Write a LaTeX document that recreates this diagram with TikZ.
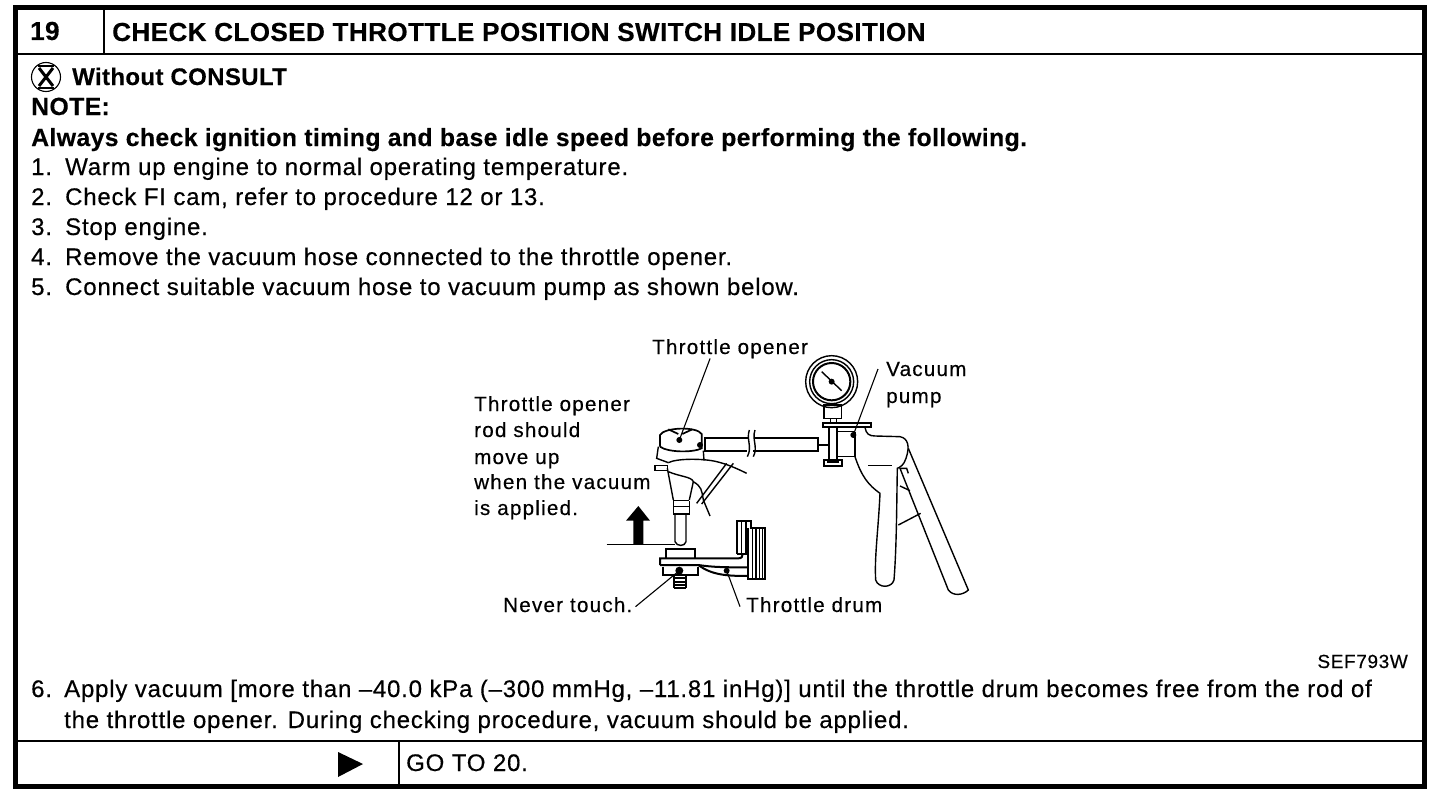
\documentclass[tikz,border=0pt]{standalone}
\usepackage{fontspec}
\setmainfont[LetterSpace=3.3,FakeBold=0.4,BoldFeatures={LetterSpace=1.5,FakeBold=0.3}]{Liberation Sans}
\newfontfamily\labelfont[LetterSpace=6,FakeBold=0.4]{Liberation Sans}
\begin{document}
\begin{tikzpicture}[x=1pt, y=-1pt,
    frame line/.style={line width=1.8pt},
    step text/.style={anchor=base west, inner sep=0pt, font=\fontsize{24}{26}\selectfont},
    head text/.style={anchor=base west, inner sep=0pt, font=\fontsize{26.1}{28}\selectfont\bfseries},
    note text/.style={anchor=base west, inner sep=0pt, font=\fontsize{24.8}{27}\selectfont\bfseries},
    pic label/.style={anchor=base west, inner sep=0pt, font=\fontsize{20.6}{23}\selectfont\labelfont},
    sketch/.style={line width=1.4pt},
    leader/.style={line width=1.1pt}]

    \useasboundingbox (0,0) rectangle (1456,800);

    % Frame
    \draw[line width=5pt] (15,8) rectangle (1424,786);
    \draw[frame line] (15,54) -- (1424,54);
    \draw[frame line] (104,8) -- (104,54);
    \draw[frame line] (15,741) -- (1424,741);
    \draw[frame line] (399,741) -- (399,786);

    % Header
    \node[head text] (num) at (30,40) {19};
    \node[head text] (title) at (112,41) {CHECK CLOSED THROTTLE POSITION SWITCH IDLE POSITION};

    % Icon
    \draw[line width=1.1pt] (46,77) circle (14.5);
    \draw[line width=1.1pt] (38,66) -- (54,66);
    \draw[line width=1.1pt] (38,88) -- (54,88);
    \draw[line width=3pt] (39,68) -- (53,86);
    \draw[line width=3pt] (53,68) -- (39,86);

    % Steps
    \node[note text, font=\fontsize{24}{27}\selectfont\bfseries] (without) at (72,85) {Without CONSULT};
    \node[note text] (note) at (31,115) {NOTE:};
    \node[note text] (always) at (31,146) {Always check ignition timing and base idle speed before performing the following.};
    \node[step text] (s1) at (31,175) {1.};
    \node[step text] (s1t) at (65,175) {Warm up engine to normal operating temperature.};
    \node[step text] (s2) at (31,205) {2.};
    \node[step text] (s2t) at (65,205) {Check FI cam, refer to procedure 12 or 13.};
    \node[step text] (s3) at (31,235) {3.};
    \node[step text] (s3t) at (65,235) {Stop engine.};
    \node[step text] (s4) at (31,265) {4.};
    \node[step text] (s4t) at (65,265) {Remove the vacuum hose connected to the throttle opener.};
    \node[step text] (s5) at (31,295) {5.};
    \node[step text] (s5t) at (65,295) {Connect suitable vacuum hose to vacuum pump as shown below.};
    \node[step text] (s6) at (31,697) {6.};
    \node[step text] (s6t) at (64,697) {Apply vacuum [more than --40.0 kPa (--300 mmHg, --11.81 inHg)] until the throttle drum becomes free from the rod of};
    \node[step text] (s6u) at (64,728) {the throttle opener. During checking procedure, vacuum should be applied.};
    \node[anchor=base east, inner sep=0pt, font=\fontsize{19}{21}\selectfont] (code) at (1408,668) {SEF793W};

    % Footer
    \fill (338,752) -- (363,764) -- (338,777) -- cycle;
    \node[step text] (goto) at (406,771) {GO TO 20.};

    % Labels
    \node[pic label] (lopener) at (652,354) {Throttle opener};
    \node[pic label] (lpump1) at (886,376) {Vacuum};
    \node[pic label] (lpump2) at (886,403) {pump};
    \node[pic label] (lrod1) at (474,411) {Throttle opener};
    \node[pic label] (lrod2) at (474,437) {rod should};
    \node[pic label] (lrod3) at (474,464) {move up};
    \node[pic label] (lrod4) at (474,489) {when the vacuum};
    \node[pic label] (lrod5) at (474,515) {is applied.};
    \node[pic label] (lnever) at (503,612) {Never touch.};
    \node[pic label] (ldrum) at (746,612) {Throttle drum};

    % Sketch, drawn in the units of a 3x crop
    \begin{scope}[shift={(460,330)}, scale=1/3]
        % Gauge
        \draw[sketch] (1115,155) circle (78);
        \draw[sketch] (1115,155) circle (66);
        \draw[line width=2pt] (1115,155) circle (56);
        \draw[sketch] (1085,125) -- (1145,182);
        \fill (1115,155) circle (9);
        \draw[sketch] (1092,225) rectangle (1145,265);
        \draw[sketch] (1112,265) -- (1112,278);
        \draw[sketch] (1130,265) -- (1130,278);
        \draw[line width=2pt] (1090,278) rectangle (1232,292);

        % Pump body
        \draw[line width=2pt] (1108,292) -- (1108,390);
        \draw[line width=2pt] (1130,292) -- (1130,390);
        \draw[sketch] (1130,305) -- (1185,305);
        \draw[sketch] (1130,380) -- (1185,380);
        \draw[line width=2pt] (1092,390) rectangle (1145,408);
        \fill (1100,394) rectangle (1138,400);
        \draw[line width=2pt] (1185,305) -- (1185,380);
        \draw[sketch] (1215,292) .. controls (1218,312) and (1228,318) .. (1245,318)
            -- (1320,320) .. controls (1345,325) and (1350,350) .. (1338,385)
            .. controls (1332,405) and (1320,412) .. (1312,415)
            .. controls (1310,520) and (1310,650) .. (1302,750)
            .. controls (1295,775) and (1255,775) .. (1247,750)
            .. controls (1243,680) and (1255,600) .. (1260,490)
            .. controls (1225,465) and (1205,440) .. (1185,380);
        \draw[line width=1.6pt] (1225,407) -- (1297,407);

        % Lever
        \draw[sketch] (1345,355) -- (1525,780) .. controls (1510,795) and (1480,800) .. (1465,780)
            -- (1320,415) -- (1340,415) -- (1345,430);
        \draw[sketch] (1320,468) -- (1350,482);
        \draw[sketch] (1315,585) -- (1382,550);

        % Hose
        \draw[line width=1.7pt] (868,325) -- (735,325) -- (735,362) -- (862,362);
        \draw[line width=1.7pt] (885,325) -- (1075,325) -- (1075,362) -- (880,362);
        \draw[sketch] (868,300) .. controls (858,330) and (878,350) .. (862,380);
        \draw[sketch] (885,300) .. controls (875,330) and (895,350) .. (880,380);
        \draw[line width=1.7pt] (1075,345) -- (1108,345);
        \fill (720,345) circle (9);

        % Throttle opener
        \draw[line width=1.7pt] (600,350) -- (600,315) .. controls (612,292) and (710,288) .. (725,312)
            -- (725,355) .. controls (700,368) and (625,368) .. (600,350);
        \draw[line width=1.7pt] (625,298) -- (655,312);
        \draw[line width=1.7pt] (667,312) -- (697,298);
        \draw[sketch] (595,350) -- (590,385) -- (625,398);
        \draw[sketch] (730,362) -- (732,392);
        \draw[sketch] (585,406) rectangle (622,422);
        \draw[sketch] (625,398) .. controls (650,385) and (730,385) .. (770,395)
            .. controls (800,402) and (830,415) .. (860,430);
        \draw[sketch] (622,415) -- (640,510);
        \draw[sketch] (625,425) .. controls (660,440) and (695,440) .. (700,455) -- (688,510);
        \draw[sketch] (700,455) .. controls (725,470) and (725,480) .. (730,510) -- (750,558);
        \draw[sketch] (710,520) -- (800,400);
        \draw[sketch] (725,522) -- (820,400);
        \draw[sketch] (640,512) -- (688,512);
        \draw[sketch] (640,530) -- (688,530);
        \draw[sketch] (640,512) -- (640,552) -- (688,552) -- (688,512);
        \draw[sketch] (645,552) -- (645,635) .. controls (650,650) and (675,650) .. (678,635) -- (678,552);

        % Arrow on the base line
        \draw[sketch] (440,643) -- (645,643);
        \fill (520,643) -- (520,572) -- (498,572) -- (535,528) -- (570,572) -- (550,572) -- (550,643) -- cycle;

        % Throttle drum
        \draw[line width=2pt] (618,685) -- (618,657) -- (705,657) -- (705,685);
        \draw[line width=2pt] (600,705) -- (600,685) -- (835,685) .. controls (845,685) and (848,680) .. (848,672);
        \draw[line width=2pt] (600,705) -- (715,705) .. controls (760,712) and (800,712) .. (862,712);
        \draw[line width=2pt] (715,705) .. controls (755,735) and (800,738) .. (865,738);
        \draw[line width=2pt] (830,672) -- (830,572) -- (872,572) -- (872,595) -- (915,595) -- (915,748) -- (865,748) -- (865,595);
        \draw[line width=2pt] (830,672) -- (865,672);
        \foreach \hx in {845,858} {
            \draw[sketch] (\hx,575) -- (\hx,670);
        }
        \foreach \hx in {878,888,898,908} {
            \draw[sketch] (\hx,598) -- (\hx,745);
        }
        \draw[line width=2pt] (608,710) -- (608,735) -- (715,735) -- (715,710);
        \foreach \ty in {745,755,765,775} {
            \draw[line width=2pt] (642,\ty) -- (678,\ty);
        }
        \draw[sketch] (642,735) -- (642,775);
        \draw[sketch] (678,735) -- (678,775);

        % Leader ends
        \coordinate (dopener) at (658,330);
        \coordinate (dpump) at (1180,315);
        \coordinate (dnever) at (658,722);
        \coordinate (ddrum) at (800,722);
        \fill (dopener) circle (9);
        \fill (dpump) circle (9);
        \fill (dnever) circle (12);
        \fill (ddrum) circle (9);
    \end{scope}

    % Leaders
    \draw[leader] ([xshift=-20pt]lopener.south) -- (dopener);
    \draw[leader] ([xshift=-8pt]lpump1.west) -- (dpump);
    \draw[leader] ([xshift=3pt, yshift=-2pt]lnever.east) -- (dnever);
    \draw[leader] ([xshift=-6pt, yshift=-2pt]ldrum.west) -- (ddrum);

\end{tikzpicture}
\end{document}
